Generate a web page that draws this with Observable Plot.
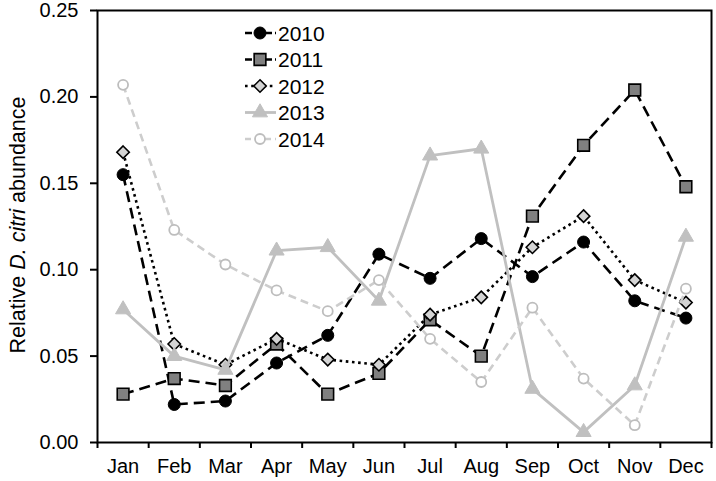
<!DOCTYPE html>
<html><head><meta charset="utf-8">
<script src="https://cdn.jsdelivr.net/npm/d3@7"></script>
<script src="https://cdn.jsdelivr.net/npm/@observablehq/plot@0.6"></script>
<style>
body{margin:0;background:#fff}
#chart{position:relative;width:716px;height:481px}
</style>
</head><body><div id="chart"></div>
<script>
const months = ["Jan","Feb","Mar","Apr","May","Jun","Jul","Aug","Sep","Oct","Nov","Dec"];
const years = ["2010","2011","2012","2013","2014"];
const v2010 = [0.155,0.022,0.024,0.046,0.062,0.109,0.095,0.118,0.096,0.116,0.082,0.072];
const v2011 = [0.028,0.037,0.033,0.057,0.028,0.040,0.071,0.050,0.131,0.172,0.204,0.148];
const v2012 = [0.168,0.057,0.045,0.060,0.048,0.045,0.074,0.084,0.113,0.131,0.094,0.081];
const v2013 = [0.077,0.050,0.042,0.111,0.113,0.082,0.166,0.170,0.031,0.006,0.033,0.119];
const v2014 = [0.207,0.123,0.103,0.088,0.076,0.094,0.060,0.035,0.078,0.037,0.010,0.089];
const yTicks = [0,0.05,0.10,0.15,0.20,0.25];

const valuesByYear = {"2010":v2010,"2011":v2011,"2012":v2012,"2013":v2013,"2014":v2014};
const styles = {
  "2010":{stroke:"#000",dash:"11,6",ldash:"7,3",sw:2.6,symbol:"circle",r:6,fill:"#000",mstroke:"#000",msw:1},
  "2011":{stroke:"#000",dash:"11,6",ldash:"7,3",sw:2.6,symbol:"square",r:6.6,fill:"#808080",mstroke:"#000",msw:1.6},
  "2012":{stroke:"#000",dash:"2.6,3.6",ldash:"2.6,3.6",sw:2.6,symbol:"diamond2",r:5.6,fill:"#d4d4d4",mstroke:"#000",msw:1.6},
  "2013":{stroke:"#c0c0c0",dash:null,ldash:null,sw:2.8,symbol:"triangle",r:5.6,fill:"#c0c0c0",mstroke:"#c0c0c0",msw:1},
  "2014":{stroke:"#cdcdcd",dash:"8,5",ldash:"6,4",sw:2.6,symbol:"circle",r:5,fill:"#fff",mstroke:"#bdbdbd",msw:1.8}
};

const font = "'Liberation Sans', Arial, sans-serif";
const marks = [];
for (const y of years) {
  const st = styles[y];
  const data = valuesByYear[y].map((v,i)=>({i, v}));
  marks.push(Plot.line(data, {x:"i", y:"v", stroke:st.stroke, strokeWidth:st.sw, strokeDasharray:st.dash, strokeLinecap:"butt", strokeLinejoin:"round"}));
  marks.push(Plot.dot(data, {x:"i", y:"v", symbol:()=>st.symbol, r:st.r, fill:st.fill, stroke:st.mstroke, strokeWidth:st.msw}));
}

const chart = Plot.plot({
  width:716, height:481,
  marginLeft:97, marginRight:5, marginTop:10, marginBottom:39,
  style:{fontFamily:font, fontSize:"20px", background:"white", color:"black"},
  x:{type:"linear", domain:[-0.5,11.5]},
  y:{domain:[0,0.25]},
  symbol:{type:"identity"},
  marks:[
    Plot.axisX({ticks:d3.range(-0.5,12,1), tickSize:6, strokeWidth:2, tickFormat:()=>"", label:null}),
    Plot.axisX({ticks:d3.range(12), tickSize:0, tickPadding:16, tickFormat:i=>months[i], label:null, fill:"black"}),
    Plot.axisY({ticks:yTicks, tickSize:7, tickPadding:12, strokeWidth:2, tickFormat:d3.format(".2f"), label:null, fill:"black"}),
    ...marks,
    Plot.frame({stroke:"black", strokeWidth:2})
  ]
});
document.getElementById("chart").appendChild(chart);

const svg = d3.select(chart);
// y-axis title
const yt = svg.append("text")
  .attr("transform","translate(25,225) rotate(-90)")
  .attr("text-anchor","middle")
  .style("font-family",font).style("font-size","21.5px").attr("fill","black");
yt.append("tspan").text("Relative ");
yt.append("tspan").attr("font-style","italic").text("D. citri");
yt.append("tspan").text(" abundance");

// legend
const lg = svg.append("g");
const symMap = {circle:d3.symbolCircle, square:d3.symbolSquare, diamond2:d3.symbolDiamond2, triangle:d3.symbolTriangle};
years.forEach((y,k)=>{
  const st = styles[y];
  const cy = 33 + k*26.5;
  const g = lg.append("g").attr("transform",`translate(0,${cy})`);
  g.append("line").attr("x1",245).attr("x2",276).attr("y1",0).attr("y2",0)
    .attr("stroke",st.stroke).attr("stroke-width",st.sw)
    .attr("stroke-dasharray",st.ldash);
  g.append("path").attr("transform","translate(260,0)")
    .attr("d", d3.symbol(symMap[st.symbol], st.r*st.r*Math.PI)())
    .attr("fill",st.fill).attr("stroke",st.mstroke).attr("stroke-width",st.msw);
  g.append("text").attr("x",278).attr("y",0).attr("dy","0.36em")
    .attr("text-anchor","start")
    .style("font-family",font).style("font-size","21px").attr("fill","black").text(y);
});
</script>
</body></html>
